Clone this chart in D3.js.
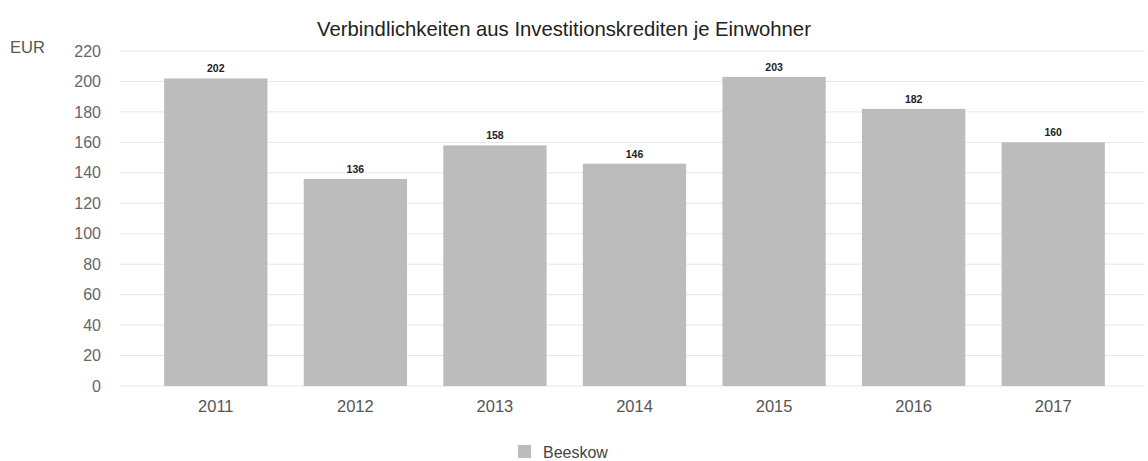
<!DOCTYPE html>
<html><head><meta charset="utf-8">
<script src="https://cdn.jsdelivr.net/npm/d3@7"></script>
<style>body{margin:0;background:#fff;} text{font-family:"Liberation Sans",Arial,sans-serif;}</style>
</head><body>
<svg id="c" width="1148" height="461"></svg>
<script>
const years = ["2011","2012","2013","2014","2015","2016","2017"];
const values = [202,136,158,146,203,182,160];
const yTicks = [0,20,40,60,80,100,120,140,160,180,200,220];
const seriesName = "Beeskow";
const title = "Verbindlichkeiten aus Investitionskrediten je Einwohner";
const unit = "EUR";

const svg = d3.select("#c");
const x = d3.scaleBand().domain(years).range([146,1123]).paddingInner(0.26).paddingOuter(0.13);
const y = d3.scaleLinear().domain([0,220]).range([386,51]);

// gridlines
svg.append("g").selectAll("line").data(yTicks).join("line")
  .attr("x1",120).attr("x2",1145)
  .attr("y1",d=>y(d)).attr("y2",d=>y(d))
  .attr("stroke","#e6e6e6").attr("stroke-width",1);

// y axis labels
const ya = svg.append("g").attr("transform","translate(101,0)")
  .call(d3.axisLeft(y).tickValues(yTicks).tickSize(0).tickPadding(0));
ya.select(".domain").remove();
ya.selectAll("text").attr("fill","#666").style("font-size","16px").style("font-family","'Liberation Sans',Arial,sans-serif");

// bars
svg.append("g").selectAll("rect").data(values).join("rect")
  .attr("x",(d,i)=>x(years[i])).attr("width",x.bandwidth())
  .attr("y",d=>y(d)).attr("height",d=>y(0)-y(d))
  .attr("fill","#bcbcbc");

// value labels
svg.append("g").selectAll("text").data(values).join("text")
  .attr("x",(d,i)=>x(years[i])+x.bandwidth()/2).attr("y",d=>y(d)-6)
  .attr("text-anchor","middle").attr("font-size","10.5px").attr("font-weight","bold").attr("fill","#222")
  .text(d=>d);

// x axis
const xa = svg.append("g").attr("transform","translate(0,388)")
  .call(d3.axisBottom(x).tickSize(0).tickPadding(12));
xa.select(".domain").remove();
xa.selectAll("text").attr("fill","#555").style("font-size","16.5px").style("font-family","'Liberation Sans',Arial,sans-serif");

// title
svg.append("text").attr("x",564).attr("y",36).attr("text-anchor","middle")
  .attr("font-size","20.3px").attr("fill","#222").text(title);
svg.append("text").attr("x",10).attr("y",53).attr("font-size","16.5px").attr("fill","#555").text(unit);

// legend
svg.append("rect").attr("x",518).attr("y",445).attr("width",13).attr("height",13).attr("fill","#bcbcbc");
svg.append("text").attr("x",543).attr("y",458).attr("font-size","16px").attr("fill","#444").text(seriesName);
</script>
</body></html>
